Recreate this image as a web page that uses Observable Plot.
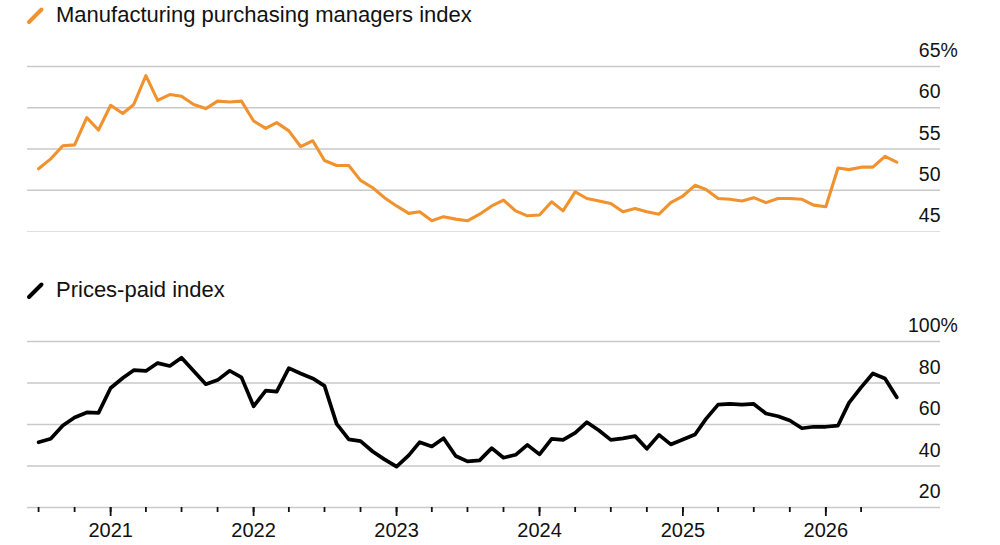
<!DOCTYPE html>
<html>
<head>
<meta charset="utf-8">
<script src="https://cdn.jsdelivr.net/npm/d3@7"></script>
<script src="https://cdn.jsdelivr.net/npm/@observablehq/plot@0.6"></script>
<style>
  body { margin: 0; background: #fff; }
  #wrap { position: relative; width: 1000px; height: 545px; overflow: hidden; background: #fff;
          font-family: "Liberation Sans", Arial, Helvetica, sans-serif; }
  .layer { position: absolute; left: 0; }
  .layer svg { display: block; }
</style>
</head>
<body>
<div id="wrap"></div>
<script>
// Monthly readings, June 2020 through June 2026
const firstMonth = "2020-06";
const pmiValues = [
  52.6, 53.8, 55.4, 55.5, 58.8, 57.3, 60.3, 59.3, 60.4, 63.9,
  60.9, 61.6, 61.4, 60.4, 59.9, 60.8, 60.7, 60.8, 58.4, 57.5,
  58.2, 57.2, 55.3, 56.0, 53.6, 53.0, 53.0, 51.2, 50.3, 49.1,
  48.1, 47.2, 47.4, 46.3, 46.8, 46.5, 46.3, 47.1, 48.1, 48.8,
  47.5, 46.9, 47.0, 48.6, 47.5, 49.8, 49.0, 48.7, 48.4, 47.4,
  47.8, 47.4, 47.1, 48.5, 49.3, 50.6, 50.1, 49.0, 48.9, 48.7,
  49.1, 48.5, 49.0, 49.0, 48.9, 48.2, 48.0, 52.7, 52.5, 52.8,
  52.8, 54.1, 53.4
];
const pricesValues = [
  51.4, 53.1, 59.5, 63.4, 65.8, 65.6, 77.6, 82.4, 86.2, 85.8,
  89.6, 88.2, 92.2, 85.8, 79.4, 81.4, 85.9, 82.7, 68.8, 76.3,
  75.8, 87.2, 84.6, 82.2, 78.6, 60.3, 52.8, 52.0, 47.0, 43.2,
  39.7, 45.1, 51.5, 49.4, 53.4, 44.8, 42.2, 42.7, 48.6, 44.0,
  45.4, 50.2, 45.6, 53.1, 52.6, 56.0, 61.1, 57.1, 52.6, 53.3,
  54.4, 48.3, 55.0, 50.4, 52.8, 55.2, 62.7, 69.6, 69.9, 69.6,
  69.9, 65.3, 64.0, 61.9, 58.2, 58.9, 58.9, 59.5, 70.4, 77.9,
  84.6, 82.2, 73.1
];
const pmiTicks = [45, 50, 55, 60, 65];
const pricesTicks = [20, 40, 60, 80, 100];
const yearLabels = [2021, 2022, 2023, 2024, 2025, 2026];
const pmiTitle = "Manufacturing purchasing managers index";
const pricesTitle = "Prices-paid index";

const orange = "#f0922e";
const gridColor = "#c9c9c9";
const font = "Liberation Sans, Arial, Helvetica, sans-serif";

// Each monthly reading is plotted at the end of its month
const start = d3.utcParse("%Y-%m")(firstMonth);
const pmi = pmiValues.map((v, i) => ({date: d3.utcMonth.offset(start, i + 1), value: v}));
const prices = pricesValues.map((v, i) => ({date: d3.utcMonth.offset(start, i + 1), value: v}));

// Shared time domain (decimal years) so both panels line up
function fromDecimalYear(y) {
  const y0 = Math.floor(y);
  const a = Date.UTC(y0, 0, 1), b = Date.UTC(y0 + 1, 0, 1);
  return new Date(a + (y - y0) * (b - a));
}
const xDomain = [fromDecimalYear(2020.42), fromDecimalYear(2026.802)];
const quarterTicks = d3.utcMonths(new Date(Date.UTC(2020, 6, 1)), new Date(Date.UTC(2026, 4, 1)), 3);
const yearTicks = yearLabels.map(y => new Date(Date.UTC(y, 0, 1)));

const wrap = document.getElementById("wrap");

function addLayer(top, node) {
  const div = document.createElement("div");
  div.className = "layer";
  div.style.top = top + "px";
  div.appendChild(node);
  wrap.appendChild(div);
}

// Series title with a short slanted swatch
function titleBlock(text, color, baseline) {
  const svg = d3.create("svg").attr("width", 1000).attr("height", 40);
  svg.append("line")
    .attr("x1", 29).attr("y1", baseline).attr("x2", 41.5).attr("y2", baseline - 12.5)
    .attr("stroke", color).attr("stroke-width", 4).attr("stroke-linecap", "round");
  svg.append("text")
    .attr("x", 56).attr("y", baseline)
    .attr("font-family", font).attr("font-size", 22).attr("fill", "#111")
    .text(text);
  return svg.node();
}

const commonStyle = {fontFamily: font, fontSize: "19.5px", background: "transparent", overflow: "visible", color: "#111"};

// Upper panel: manufacturing PMI
const pmiPlot = Plot.plot({
  width: 1000,
  height: 200,
  marginTop: 26,
  marginBottom: 9,
  marginLeft: 27,
  marginRight: 60,
  style: commonStyle,
  x: {type: "utc", domain: xDomain, axis: null},
  y: {domain: [45, 65], axis: null},
  marks: [
    Plot.ruleY(pmiTicks.filter(d => d !== 45), {stroke: gridColor, strokeWidth: 1.4}),
    Plot.ruleY([45], {stroke: "#dedede", strokeWidth: 1.2}),
    Plot.axisY({anchor: "right", ticks: pmiTicks, tickSize: 0, tickPadding: 0, textAnchor: "end",
                lineAnchor: "bottom", dy: -9.5, fill: "#111", label: null, tickFormat: d => String(d)}),
    Plot.text([65], {y: d => d, frameAnchor: "right", text: () => "%", textAnchor: "start",
                     lineAnchor: "bottom", dy: -9.5, fill: "#111"}),
    Plot.line(pmi, {x: "date", y: "value", stroke: orange, strokeWidth: 3.1, strokeLinejoin: "round", strokeLinecap: "round"})
  ]
});

// Lower panel: prices-paid index
const pricesPlot = Plot.plot({
  width: 1000,
  height: 235,
  marginTop: 31,
  marginBottom: 38,
  marginLeft: 27,
  marginRight: 60,
  style: commonStyle,
  x: {type: "utc", domain: xDomain},
  y: {domain: [20, 100], axis: null},
  marks: [
    Plot.ruleY(pricesTicks, {stroke: gridColor, strokeWidth: 1.4}),
    Plot.axisY({anchor: "right", ticks: pricesTicks, tickSize: 0, tickPadding: 0, textAnchor: "end",
                lineAnchor: "bottom", dy: -9.5, fill: "#111", label: null, tickFormat: d => String(d)}),
    Plot.text([100], {y: d => d, frameAnchor: "right", text: () => "%", textAnchor: "start",
                      lineAnchor: "bottom", dy: -9.5, fill: "#111"}),
    Plot.axisX({ticks: quarterTicks, tickSize: 5, tickFormat: () => "", stroke: "#111", strokeWidth: 1.8, label: null}),
    Plot.axisX({ticks: yearTicks, tickSize: 9, tickPadding: 6, tickFormat: d3.utcFormat("%Y"),
                fontSize: 20, stroke: "#111", strokeWidth: 1.8, fill: "#111", label: null}),
    Plot.line(prices, {x: "date", y: "value", stroke: "#000", strokeWidth: 3.7, strokeLinejoin: "round", strokeLinecap: "round"})
  ]
});

addLayer(0, titleBlock(pmiTitle, orange, 22));
addLayer(40, pmiPlot);
addLayer(270, titleBlock(pricesTitle, "#000", 27));
addLayer(310, pricesPlot);
</script>
</body>
</html>
